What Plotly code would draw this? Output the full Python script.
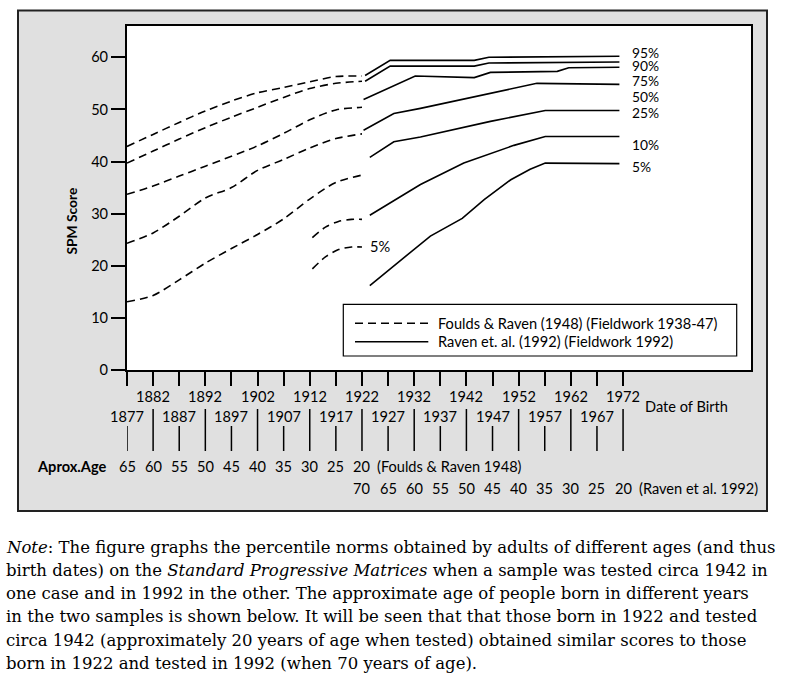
import plotly.graph_objects as go

# ---------------- data ----------------
# Foulds & Raven (1948) norms (dashed), by year of birth
fr_years = [1877, 1882, 1887, 1892, 1897, 1902, 1907, 1912, 1917, 1922]
fr_95 = [42.9, 45.2, 47.5, 49.7, 51.6, 53.2, 54.2, 55.3, 56.3, 56.4]
fr_90 = [39.7, 42.0, 44.3, 46.5, 48.5, 50.4, 52.3, 54.0, 55.0, 55.4]
fr_75 = [33.7, 35.3, 37.2, 39.1, 41.0, 43.0, 45.4, 48.0, 49.9, 50.4]
fr_50 = [24.3, 26.3, 29.5, 33.0, 35.0, 38.3, 40.4, 42.6, 44.4, 45.3]
fr_25 = [13.1, 14.3, 17.3, 20.5, 23.3, 26.0, 29.0, 32.8, 36.0, 37.4]
fr_short_years = [1912.5, 1915, 1917.5, 1920, 1922]
fr_10 = [25.4, 27.4, 28.5, 28.9, 28.9]
fr_5 = [19.4, 21.7, 23.1, 23.6, 23.6]

# Raven et al. (1992) norms (solid)
r95_x = [1922.6, 1927.4, 1943.5, 1946.3, 1971.3]
r95_y = [56.5, 59.4, 59.4, 60.0, 60.2]
r90_x = [1922.6, 1927.4, 1943.5, 1946.3, 1971.3]
r90_y = [55.4, 58.3, 58.3, 58.9, 59.1]
r75_x = [1922.3, 1932.2, 1943.5, 1946.6, 1959.4, 1961.6, 1971.3]
r75_y = [51.9, 56.4, 56.1, 57.1, 57.3, 58.0, 58.1]
r50_x = [1922.3, 1928.1, 1933.2, 1946.6, 1955.5, 1971.3]
r50_y = [46.0, 49.2, 50.2, 53.0, 55.0, 54.8]
r25_x = [1923.5, 1928.1, 1933.2, 1946.6, 1957.1, 1971.3]
r25_y = [40.8, 43.8, 44.7, 47.7, 49.8, 49.8]
r10_x = [1923.5, 1933.2, 1941.5, 1951.1, 1957.1, 1971.3]
r10_y = [29.7, 35.6, 39.7, 43.1, 44.8, 44.8]
r5_x = [1923.5, 1928.1, 1935.1, 1941.2, 1945.4, 1950.5, 1954.2, 1957.1, 1971.3]
r5_y = [16.2, 19.9, 25.7, 29.1, 32.7, 36.5, 38.5, 39.7, 39.6]

pct_labels = ["95%", "90%", "75%", "50%", "25%", "10%", "5%"]
pct_label_y = [61.0, 58.5, 55.7, 52.5, 49.5, 43.4, 39.1]
pct_label_x = 1973.7
fr5_label = ("5%", 1923.6, 23.75)

birth_ticks = list(range(1877, 1973, 5))
upper_row = [y for y in birth_ticks if (y - 1877) % 10 == 5]   # 1882 ... 1972
lower_row = [y for y in birth_ticks if (y - 1877) % 10 == 0]   # 1877 ... 1967
fr_age_years = list(range(1877, 1923, 5))
fr_ages = [65, 60, 55, 50, 45, 40, 35, 30, 25, 20]
rv_age_years = list(range(1922, 1973, 5))
rv_ages = [70, 65, 60, 55, 50, 45, 40, 35, 30, 25, 20]
y_ticks = [0, 10, 20, 30, 40, 50, 60]

legend_labels = ["Foulds & Raven (1948) (Fieldwork 1938-47)",
                 "Raven et. al. (1992) (Fieldwork 1992)"]
note_lines = [
    "<i>Note</i>: The figure graphs the percentile norms obtained by adults of different ages (and thus",
    "birth dates) on the <i>Standard Progressive Matrices</i> when a sample was tested circa 1942 in",
    "one case and in 1992 in the other. The approximate age of people born in different years",
    "in the two samples is shown below. It will be seen that that those born in 1922 and tested",
    "circa 1942 (approximately 20 years of age when tested) obtained similar scores to those",
    "born in 1922 and tested in 1992 (when 70 years of age).",
]

# ---------------- layout helpers ----------------
W, H = 792, 677
L, R, T, B = 127, 41, 26, 307
PW, PH = W - L - R, H - T - B


def xp(px):
    return (px - L) / PW


def yp(py):
    return (H - B - py) / PH


SANS = "Lato"
SERIF = "DejaVu Serif"
DASH = "8px,5px"

fig = go.Figure()

dashed = [(fr_years, fr_95), (fr_years, fr_90), (fr_years, fr_75), (fr_years, fr_50),
          (fr_years, fr_25), (fr_short_years, fr_10), (fr_short_years, fr_5)]
for xs, ys in dashed:
    fig.add_trace(go.Scatter(x=xs, y=ys, mode="lines", hoverinfo="skip",
                             line=dict(color="black", width=1.6, dash=DASH,
                                       shape="spline", smoothing=0.8)))

solid = [(r95_x, r95_y), (r90_x, r90_y), (r75_x, r75_y), (r50_x, r50_y),
         (r25_x, r25_y), (r10_x, r10_y), (r5_x, r5_y)]
for xs, ys in solid:
    fig.add_trace(go.Scatter(x=xs, y=ys, mode="lines", hoverinfo="skip",
                             line=dict(color="black", width=1.6)))

shapes = []
# grey panel and white plot area
shapes.append(dict(type="rect", xref="paper", yref="paper", x0=xp(18), x1=xp(767),
                   y0=yp(511), y1=yp(10.5), fillcolor="#e0e0e0",
                   line=dict(color="#222", width=2), layer="below"))
shapes.append(dict(type="rect", xref="paper", yref="paper", x0=0, x1=1, y0=0, y1=1,
                   fillcolor="white", line=dict(width=0), layer="below"))
# long bars under the date labels
for yr in upper_row:
    shapes.append(dict(type="line", xref="x", yref="paper", x0=yr, x1=yr,
                       y0=yp(409), y1=yp(451), line=dict(color="black", width=1.5)))
for yr in lower_row:
    shapes.append(dict(type="line", xref="x", yref="paper", x0=yr, x1=yr,
                       y0=yp(426), y1=yp(451), line=dict(color="black", width=1.5)))
# legend box
shapes.append(dict(type="rect", xref="paper", yref="paper", x0=xp(343.3), x1=xp(736.7),
                   y0=yp(356), y1=yp(304.3), fillcolor="white",
                   line=dict(color="black", width=1.2)))
shapes.append(dict(type="line", xref="paper", yref="paper", x0=xp(355), x1=xp(428.3),
                   y0=yp(323.3), y1=yp(323.3), line=dict(color="black", width=1.6, dash=DASH)))
shapes.append(dict(type="line", xref="paper", yref="paper", x0=xp(355), x1=xp(428.3),
                   y0=yp(341.7), y1=yp(341.7), line=dict(color="black", width=1.6)))

ann = []
FS = 14.6
f14 = dict(family=SANS, size=FS, color="black")
for lab, yv in zip(pct_labels, pct_label_y):
    ann.append(dict(x=pct_label_x, y=yv, xref="x", yref="y", text=lab, showarrow=False,
                    xanchor="left", yanchor="middle", height=12, borderpad=0,
                    font=dict(family=SANS, size=13.8, color="black"), xshift=-1))
ann.append(dict(x=fr5_label[1], y=fr5_label[2], xref="x", yref="y", text=fr5_label[0],
                showarrow=False, xanchor="left", yanchor="middle", font=f14, xshift=-2))
for yr in upper_row:
    ann.append(dict(x=yr, y=yp(396.7), xref="x", yref="paper", text=str(yr),
                    showarrow=False, xanchor="center", yanchor="middle", font=f14))
for yr in lower_row:
    ann.append(dict(x=yr, y=yp(416.7), xref="x", yref="paper", text=str(yr),
                    showarrow=False, xanchor="center", yanchor="middle", font=f14))
ann.append(dict(x=xp(645), y=yp(406.7), xref="paper", yref="paper", text="Date of Birth",
                showarrow=False, xanchor="left", yanchor="middle", font=f14, xshift=-2))
for yr, a in zip(fr_age_years, fr_ages):
    ann.append(dict(x=yr, y=yp(466), xref="x", yref="paper", text=str(a),
                    showarrow=False, xanchor="center", yanchor="middle", font=f14))
ann.append(dict(x=xp(377.3), y=yp(466), xref="paper", yref="paper",
                text="(Foulds & Raven 1948)", showarrow=False, xanchor="left",
                yanchor="middle", font=f14, xshift=-2))
for yr, a in zip(rv_age_years, rv_ages):
    ann.append(dict(x=yr, y=yp(488.3), xref="x", yref="paper", text=str(a),
                    showarrow=False, xanchor="center", yanchor="middle", font=f14))
ann.append(dict(x=xp(638.5), y=yp(488.3), xref="paper", yref="paper",
                text="(Raven et al. 1992)", showarrow=False, xanchor="left",
                yanchor="middle", font=f14, xshift=-2))
ann.append(dict(x=xp(105.5), y=yp(466), xref="paper", yref="paper",
                text="<b>Aprox.Age</b>", showarrow=False, xanchor="right",
                yanchor="middle", font=dict(family=SANS, size=FS, color="black"), xshift=2))
ann.append(dict(x=xp(71.7), y=yp(220.8), xref="paper", yref="paper",
                text="<b>SPM Score</b>", showarrow=False, textangle=-90,
                xanchor="center", yanchor="middle",
                font=dict(family=SANS, size=13.8, color="black")))
for i, lab in enumerate(legend_labels):
    ann.append(dict(x=xp(438.3), y=yp(323.3 + 18.4 * i), xref="paper", yref="paper",
                    text=lab, showarrow=False, xanchor="left", yanchor="middle",
                    font=f14, xshift=-2))
for i, line in enumerate(note_lines):
    ann.append(dict(x=xp(6), y=yp(547 + 23.3 * i), xref="paper", yref="paper",
                    text=line, showarrow=False, xanchor="left", yanchor="middle",
                    font=dict(family=SERIF, size=16.5, color="black"), xshift=-2))

fig.update_layout(
    width=W, height=H,
    margin=dict(l=L, r=R, t=T, b=B, pad=0),
    paper_bgcolor="white", plot_bgcolor="white",
    showlegend=False,
    font=dict(family=SANS, size=FS, color="black"),
    shapes=shapes, annotations=ann,
    xaxis=dict(range=[1877, 1996.5], tickvals=birth_ticks, showticklabels=False,
               ticks="outside", ticklen=14, tickwidth=1.5, tickcolor="black",
               showline=True, linewidth=2, linecolor="black", mirror=True,
               showgrid=False, zeroline=False, fixedrange=True),
    yaxis=dict(range=[0, 66], tickvals=y_ticks, ticks="outside", ticklen=14,
               tickwidth=1.5, tickcolor="black", showline=True, linewidth=2,
               linecolor="black", mirror=True, showgrid=False, zeroline=False,
               tickfont=dict(family=SANS, size=FS, color="black"), fixedrange=True),
)

fig.write_html("out.html", config={"displayModeBar": False},
               post_script="document.body.style.margin='0px';document.body.style.overflow='hidden';")
